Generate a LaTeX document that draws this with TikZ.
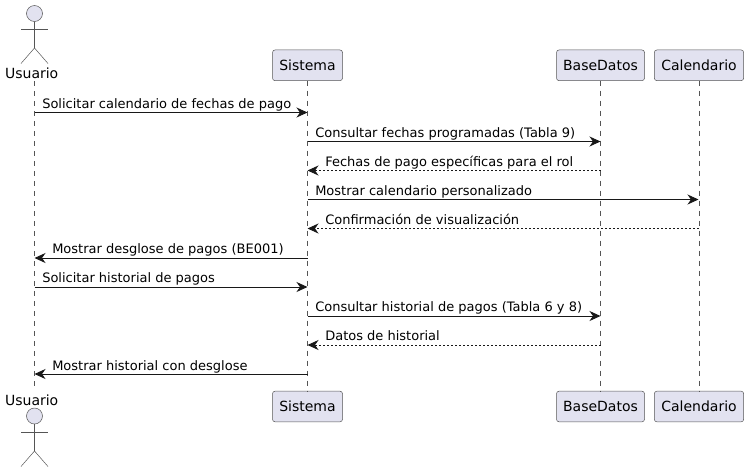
\documentclass[tikz,border=0pt]{standalone}
\usepackage{fontspec}
\setmainfont{DejaVu Sans}
\usetikzlibrary{arrows.meta}
\definecolor{pfill}{HTML}{E2E2F0}
\definecolor{pline}{HTML}{181818}
\definecolor{pthin}{HTML}{555555}
\tikzset{
  x=0.75pt,y=-0.75pt,
  part/.style={draw=pthin,fill=pfill,line width=0.375pt,rounded corners=1.9pt,inner sep=0pt,outer sep=0pt,minimum height=23pt,font=\fontsize{10.5pt}{12pt}\selectfont},
  head/.style={circle,draw=pthin,fill=pfill,line width=0.375pt,inner sep=0pt,outer sep=0pt,minimum size=12pt},
  alabel/.style={inner sep=0pt,font=\fontsize{10.5pt}{12pt}\selectfont},
  limb/.style={draw=pthin,line width=0.375pt},
  life/.style={draw=pthin,line width=0.375pt,dash pattern=on 3.75pt off 3.75pt},
  msg/.style={draw=pline,line width=0.75pt,-{Stealth[length=8.25pt,width=7.5pt,inset=2.6pt]}},
  back/.style={msg,dash pattern=on 1.5pt off 1.5pt},
  mtext/.style={anchor=base west,inner sep=0pt,font=\fontsize{9.75pt}{12pt}\selectfont,text=black}
}
\begin{document}
\begin{tikzpicture}
\useasboundingbox (0,0) rectangle (749,472);
% participants
\node[part,minimum width=52.5pt] (st) at (307.5,65.3) {Sistema};
\node[part,minimum width=66pt] (bt) at (600.5,65.3) {BaseDatos};
\node[part,minimum width=67pt] (ct) at (699,65.3) {Calendario};
\node[part,minimum width=52.5pt] (sb) at (307.5,406.5) {Sistema};
\node[part,minimum width=66pt] (bb) at (600.5,406.5) {BaseDatos};
\node[part,minimum width=67pt] (cb) at (699,406.5) {Calendario};
\node[alabel,anchor=base] (ut) at (31.7,78) {Usuario};
\node[alabel,anchor=base] (ub) at (31.7,405) {Usuario};
\coordinate (ult) at (34.5,81);
\coordinate (ulb) at (34.5,391);
% lifelines
\draw[life] (ult) -- (ulb);
\draw[life] (st.south) -- (sb.north);
\draw[life] (bt.south) -- (bb.north);
\draw[life] (ct.south) -- (cb.north);
% top actor
\node[head] (ht) at (34.5,13.5) {};
\coordinate (wt) at (34.5,48);
\coordinate (alt) at (21,29);
\coordinate (art) at (48,29);
\coordinate (llt) at (21,63.5);
\coordinate (lrt) at (48,63.5);
\draw[limb] (ht.south) -- (wt);
\draw[limb] (alt) -- (art);
\draw[limb] (llt) -- (wt) -- (lrt);
% bottom actor
\node[head] (hb) at (34.5,416) {};
\coordinate (wb) at (34.5,451);
\coordinate (alb) at (21,432);
\coordinate (arb) at (48,432);
\coordinate (llb) at (21,466.5);
\coordinate (lrb) at (48,466.5);
\draw[limb] (hb.south) -- (wb);
\draw[limb] (alb) -- (arb);
\draw[limb] (llb) -- (wb) -- (lrb);
% message anchors
\foreach \i/\y in {1/112.5,2/141.5,3/170.5,4/199.5,5/228.5,6/258,7/287,8/316,9/345,10/374}{
  \coordinate (U\i) at (34.5,\y);
  \coordinate (S\i) at (307.5,\y);
  \coordinate (B\i) at (600.5,\y);
  \coordinate (C\i) at (698.5,\y);
}
% messages
\draw[msg] (U1) -- (S1);
\draw[msg] (S2) -- (B2);
\draw[back] (B3) -- (S3);
\draw[msg] (S4) -- (C4);
\draw[back] (C5) -- (S5);
\draw[msg] (S6) -- (U6);
\draw[msg] (U7) -- (S7);
\draw[msg] (S8) -- (B8);
\draw[back] (B9) -- (S9);
\draw[msg] (S10) -- (U10);
% labels
\node[mtext] (m1) at (42,108) {Solicitar calendario de fechas de pago};
\node[mtext] (m2) at (315,137) {Consultar fechas programadas (Tabla 9)};
\node[mtext] (m3) at (325,166) {Fechas de pago específicas para el rol};
\node[mtext] (m4) at (315,195) {Mostrar calendario personalizado};
\node[mtext] (m5) at (325,224) {Confirmación de visualización};
\node[mtext] (m6) at (52,253) {Mostrar desglose de pagos (BE001)};
\node[mtext] (m7) at (42,282) {Solicitar historial de pagos};
\node[mtext] (m8) at (315,311) {Consultar historial de pagos (Tabla 6 y 8)};
\node[mtext] (m9) at (325,340) {Datos de historial};
\node[mtext] (m10) at (52,370) {Mostrar historial con desglose};
\end{tikzpicture}
\end{document}
